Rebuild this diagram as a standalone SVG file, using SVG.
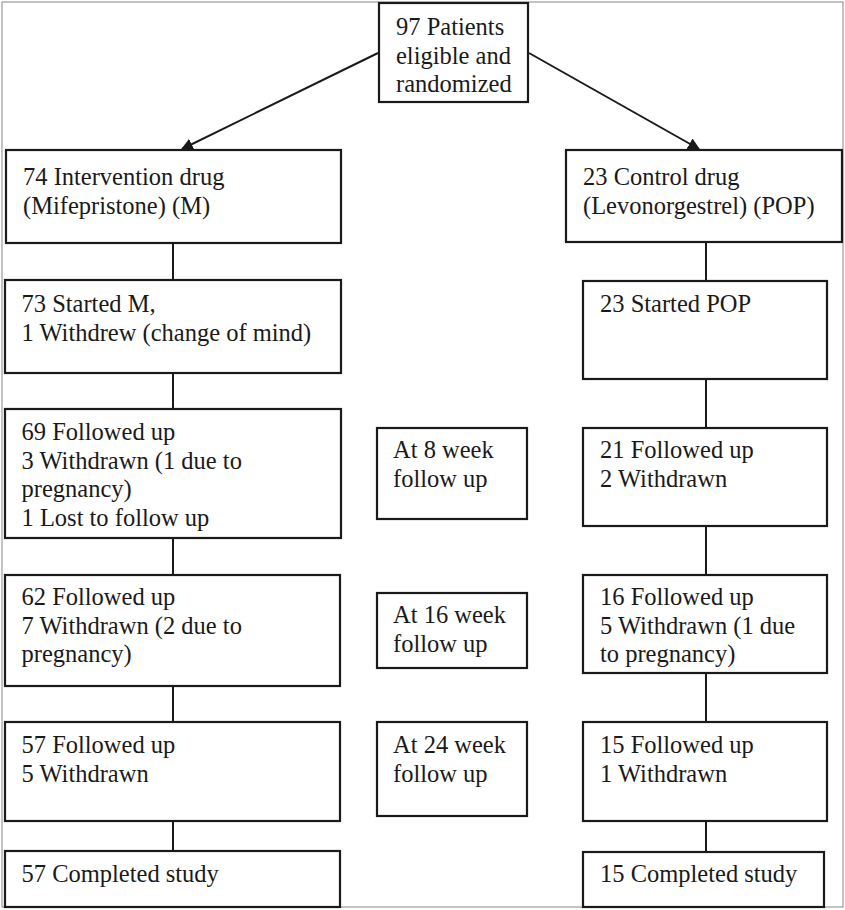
<svg xmlns="http://www.w3.org/2000/svg" width="845" height="910" viewBox="0 0 845 910">
<style>
.box{fill:#fff;stroke:#1a1a1a;stroke-width:2.2}
.t{font-family:"Liberation Serif","Times New Roman",serif;font-size:24.5px;fill:#1a1a1a}
.c{stroke:#1a1a1a;stroke-width:2;fill:none}
</style>
<defs>
<marker id="ah" viewBox="0 0 10 10" refX="9" refY="5" markerWidth="6" markerHeight="6" orient="auto" markerUnits="strokeWidth">
<path d="M0,0 L10,5 L0,10 z" fill="#1a1a1a"/>
</marker>
</defs>
<rect x="0" y="0" width="845" height="910" fill="#fff"/>
<rect x="2" y="2" width="841" height="905" fill="none" stroke="#888" stroke-width="1"/>
<g id="connectors">
<line class="c" x1="378" y1="53" x2="182" y2="149" marker-end="url(#ah)"/>
<line class="c" x1="529" y1="53" x2="699" y2="149" marker-end="url(#ah)"/>
<line class="c" x1="173" y1="243" x2="173" y2="280"/>
<line class="c" x1="173" y1="373" x2="173" y2="409"/>
<line class="c" x1="173" y1="538" x2="173" y2="575"/>
<line class="c" x1="173" y1="686" x2="173" y2="722"/>
<line class="c" x1="173" y1="821" x2="173" y2="851"/>
<line class="c" x1="706" y1="242" x2="706" y2="281"/>
<line class="c" x1="706" y1="379" x2="706" y2="428"/>
<line class="c" x1="706" y1="526" x2="706" y2="575"/>
<line class="c" x1="706" y1="673" x2="706" y2="722"/>
<line class="c" x1="706" y1="821" x2="706" y2="852"/>
</g>
<g id="top">
<rect class="box" x="379" y="3" width="149" height="99"/>
<text class="t" x="396" y="35">97 Patients</text>
<text class="t" x="396" y="63.5">eligible and</text>
<text class="t" x="396" y="92">randomized</text>
</g>
<g id="m1">
<rect class="box" x="6" y="150" width="335" height="93"/>
<text class="t" x="23" y="185">74 Intervention drug</text>
<text class="t" x="23" y="213.5">(Mifepristone) (M)</text>
</g>
<g id="p1">
<rect class="box" x="566" y="150" width="276" height="92"/>
<text class="t" x="583" y="185">23 Control drug</text>
<text class="t" x="583" y="213.5">(Levonorgestrel) (POP)</text>
</g>
<g id="m2">
<rect class="box" x="5" y="280" width="336" height="93"/>
<text class="t" x="21.5" y="312">73 Started M,</text>
<text class="t" x="21.5" y="340.5">1 Withdrew (change of mind)</text>
</g>
<g id="p2">
<rect class="box" x="583" y="281" width="244" height="98"/>
<text class="t" x="600" y="312">23 Started POP</text>
</g>
<g id="m3">
<rect class="box" x="5" y="409" width="336" height="129"/>
<text class="t" x="21.5" y="440">69 Followed up</text>
<text class="t" x="21.5" y="468.5">3 Withdrawn (1 due to</text>
<text class="t" x="21.5" y="497">pregnancy)</text>
<text class="t" x="21.5" y="525.5">1 Lost to follow up</text>
</g>
<g id="w8">
<rect class="box" x="377" y="428" width="150" height="91"/>
<text class="t" x="393" y="458">At 8 week</text>
<text class="t" x="393" y="486.5">follow up</text>
</g>
<g id="p3">
<rect class="box" x="583" y="428" width="244" height="98"/>
<text class="t" x="600" y="458">21 Followed up</text>
<text class="t" x="600" y="486.5">2 Withdrawn</text>
</g>
<g id="m4">
<rect class="box" x="5" y="575" width="335" height="111"/>
<text class="t" x="21.5" y="605">62 Followed up</text>
<text class="t" x="21.5" y="633.5">7 Withdrawn (2 due to</text>
<text class="t" x="21.5" y="662">pregnancy)</text>
</g>
<g id="w16">
<rect class="box" x="377" y="593" width="150" height="75"/>
<text class="t" x="393" y="623">At 16 week</text>
<text class="t" x="393" y="651.5">follow up</text>
</g>
<g id="p4">
<rect class="box" x="583" y="575" width="244" height="98"/>
<text class="t" x="600" y="605">16 Followed up</text>
<text class="t" x="600" y="633.5">5 Withdrawn (1 due</text>
<text class="t" x="600" y="662">to pregnancy)</text>
</g>
<g id="m5">
<rect class="box" x="5" y="722" width="335" height="99"/>
<text class="t" x="21.5" y="753">57 Followed up</text>
<text class="t" x="21.5" y="781.5">5 Withdrawn</text>
</g>
<g id="w24">
<rect class="box" x="377" y="722" width="150" height="94"/>
<text class="t" x="393" y="753">At 24 week</text>
<text class="t" x="393" y="781.5">follow up</text>
</g>
<g id="p5">
<rect class="box" x="583" y="722" width="244" height="99"/>
<text class="t" x="600" y="753">15 Followed up</text>
<text class="t" x="600" y="781.5">1 Withdrawn</text>
</g>
<g id="m6">
<rect class="box" x="5" y="851" width="335" height="56"/>
<text class="t" x="21.5" y="882">57 Completed study</text>
</g>
<g id="p6">
<rect class="box" x="583" y="852" width="241" height="55"/>
<text class="t" x="600" y="882">15 Completed study</text>
</g>
</svg>
